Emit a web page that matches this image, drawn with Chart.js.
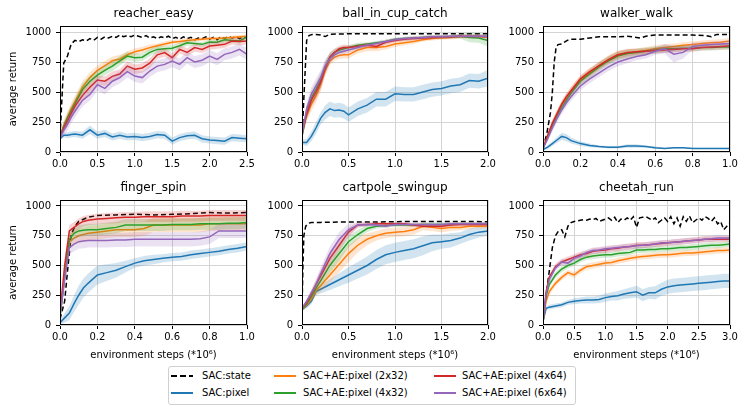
<!DOCTYPE html>
<html lang="en">
<head>
<meta charset="UTF-8">
<title>SAC+AE learning curves</title>
<script src="https://cdn.jsdelivr.net/npm/chart.js"></script>
<style>
  body { margin: 0; background: #fff; }
  #fig { position: relative; width: 748px; height: 410px; overflow: hidden; font-family: 'DejaVu Sans', sans-serif; }
  #fig canvas { position: absolute; }
  #legend { position: absolute; left: 168px; top: 366px; width: 406px; height: 37px; border: 1px solid #d0d0d0; border-radius: 3px; }
  .lg-text { position: absolute; font-size: 10px; line-height: 12px; color: #000; white-space: nowrap; }
  .lg-mark { position: absolute; width: 22px; height: 2px; }
</style>
</head>
<body>
<div id="fig">
  <div id="legend"></div>
</div>
<script>
// ---- data ----
const seriesLabels = ['SAC:state', 'SAC:pixel', 'SAC+AE:pixel (2x32)', 'SAC+AE:pixel (4x32)', 'SAC+AE:pixel (4x64)', 'SAC+AE:pixel (6x64)'];
const yTicks = [0, 250, 500, 750, 1000];

// reacher_easy
const reacherTicks = [0, 0.5, 1.0, 1.5, 2.0, 2.5];
const reacherX = [0,0.05,0.1,0.15,0.2,0.3,0.4,0.5,0.6,0.7,0.8,0.9,1.0,1.1,1.2,1.3,1.4,1.5,1.6,1.7,1.8,1.9,2.0,2.1,2.2,2.3,2.4,2.5];
const reacherStateX = [0,0.05,0.1,0.15,0.2,0.25,0.3,0.35,0.4,0.45,0.5,0.55,0.6,0.65,0.7,0.75,0.8,0.85,0.9,0.95,1.0,1.05,1.1,1.15,1.2,1.25,1.3,1.35,1.4,1.45,1.5,1.55,1.6,1.65,1.7,1.75,1.8,1.85,1.9,1.95,2.0,2.05,2.1,2.15,2.2,2.25,2.3,2.35,2.4,2.45,2.5];
const reacherState = [130,740,800,900,930,920,935,925,945,930,955,940,960,950,965,955,975,960,970,960,975,965,955,970,950,960,945,960,950,965,945,955,940,960,945,955,935,950,945,960,940,955,935,960,945,965,950,960,945,960,955];
const reacherPixel = [110,140,140,145,150,140,185,140,155,125,140,125,130,120,130,145,140,90,120,135,140,110,100,95,90,120,115,110];
const reacher2x32 = [130,220,290,360,420,540,620,680,720,760,775,810,835,850,870,885,900,915,920,930,935,940,945,945,950,955,960,965];
const reacher4x32 = [130,210,280,340,400,520,590,640,680,715,760,800,786,790,830,855,860,865,885,910,905,897,916,915,935,930,925,960];
const reacher4x64 = [120,200,260,320,380,470,540,600,590,630,650,716,690,700,740,810,828,786,855,830,870,855,883,890,897,925,920,925];
const reacher6x64 = [120,180,230,290,340,430,480,560,530,590,620,670,633,620,675,716,730,758,730,786,750,765,800,772,814,830,855,814];
const reacherPixelBand = [15,20,25,25,25,30,35,30,30,30,30,30,30,30,30,30,30,30,30,30,30,30,30,30,30,30,30,30];
const reacher2x32Band = [20,40,50,50,50,50,45,40,40,35,35,30,30,25,25,20,20,20,20,20,15,15,15,15,15,15,15,15];
const reacher4x32Band = [20,40,50,50,50,50,45,40,40,40,40,35,35,30,30,30,25,25,25,25,20,20,20,20,20,20,20,20];
const reacher4x64Band = [20,40,50,50,50,50,45,40,40,40,40,40,40,40,40,35,35,35,35,35,35,30,30,30,30,30,30,30];
const reacher6x64Band = [20,40,50,50,50,50,50,50,50,50,50,50,50,50,50,50,50,50,50,50,50,50,50,50,50,50,50,50];

// ball_in_cup_catch
const ballTicks = [0, 0.5, 1.0, 1.5, 2.0];
const ballX = [0,0.05,0.1,0.15,0.2,0.25,0.3,0.35,0.4,0.45,0.5,0.6,0.7,0.8,0.9,1.0,1.1,1.2,1.3,1.4,1.5,1.6,1.7,1.8,1.9,2.0];
const ballStateX = [0,0.02,0.05,0.075,0.1,0.15,0.2,0.25,0.3,0.4,0.6,0.8,1.0,1.2,1.4,1.6,1.8,2.0];
const ballState = [100,450,930,970,978,980,975,962,982,984,985,985,985,985,985,985,985,985];
const ballPixel = [80,80,130,200,280,330,360,345,350,340,310,360,390,440,440,485,480,480,500,520,530,550,560,595,590,615];
const ball2x32 = [170,300,400,470,560,680,760,790,805,810,810,850,870,870,880,900,910,920,935,945,950,955,960,960,960,960];
const ball4x32 = [130,330,450,520,600,710,790,830,850,860,870,890,900,910,920,940,945,950,955,960,960,960,965,955,950,930];
const ball4x64 = [150,320,430,500,580,700,790,830,860,870,870,880,890,880,915,930,940,945,950,955,960,960,965,965,965,960];
const ball6x64 = [140,360,480,550,620,720,780,810,830,840,850,870,890,905,920,935,945,950,955,960,960,965,965,965,965,965];
const ballPixelBand = [20,30,40,50,50,60,60,60,60,60,60,60,60,60,60,60,60,60,60,60,60,60,60,60,60,70];
const ball2x32Band = [40,50,60,60,60,50,40,30,30,30,30,30,30,30,25,25,20,20,15,15,15,15,15,15,15,15];
const ball4x32Band = [40,50,60,60,60,50,40,30,25,25,20,20,15,15,15,15,15,15,15,15,15,15,20,40,40,50];
const ball4x64Band = [40,50,60,60,60,50,40,30,25,25,20,20,20,20,20,15,15,15,15,15,15,15,15,15,15,15];
const ball6x64Band = [40,50,60,60,60,50,40,30,25,25,20,20,15,15,15,15,15,15,15,15,15,15,15,15,15,15];

// walker_walk
const walkerTicks = [0, 0.2, 0.4, 0.6, 0.8, 1.0];
const walkerX = [0,0.025,0.05,0.075,0.1,0.125,0.15,0.2,0.25,0.3,0.35,0.4,0.45,0.5,0.55,0.6,0.65,0.7,0.75,0.8,0.85,0.9,0.95,1.0];
const walkerStateX = [0,0.02,0.04,0.05,0.06,0.07,0.08,0.1,0.13,0.15,0.2,0.25,0.3,0.4,0.45,0.5,0.52,0.55,0.6,0.7,0.8,0.87,0.9,0.93,1.0];
const walkerState = [30,150,330,500,750,870,895,900,930,940,940,950,960,960,965,955,950,965,975,975,975,970,960,980,980];
const walkerPixel = [20,40,70,100,130,120,95,70,55,45,40,40,50,50,45,35,30,35,35,30,30,30,30,30];
const walker2x32 = [30,130,230,310,390,450,510,600,660,720,770,810,820,835,845,860,870,880,890,895,905,910,915,925];
const walker4x32 = [30,120,220,300,370,430,490,590,650,710,760,800,820,830,840,850,860,860,865,865,870,870,875,875];
const walker4x64 = [30,140,240,320,400,460,510,610,670,720,770,810,830,835,840,845,850,855,860,860,870,875,880,885];
const walker6x64 = [30,110,200,280,350,410,460,550,610,660,710,750,775,795,810,840,860,815,830,880,890,895,900,905];
const walkerPixelBand = [10,15,20,25,30,30,25,20,15,10,10,10,15,15,10,10,5,5,5,5,5,5,5,5];
const walker2x32Band = [10,20,30,35,35,35,35,35,35,35,35,35,35,30,30,30,30,25,25,25,25,25,25,25];
const walker4x32Band = [10,20,30,35,35,35,35,35,35,35,35,35,35,30,30,30,30,25,25,25,25,25,25,25];
const walker4x64Band = [10,20,30,30,30,30,30,30,30,30,30,30,30,25,25,25,25,25,25,25,25,25,25,25];
const walker6x64Band = [10,20,30,35,35,35,35,35,35,35,35,35,35,30,30,30,40,70,50,30,25,25,25,25];

// finger_spin
const fingerTicks = [0, 0.2, 0.4, 0.6, 0.8, 1.0];
const fingerX = [0,0.025,0.05,0.075,0.1,0.125,0.15,0.2,0.25,0.3,0.35,0.4,0.45,0.5,0.55,0.6,0.65,0.7,0.75,0.8,0.85,0.9,0.95,1.0];
const fingerStateX = [0,0.025,0.04,0.06,0.08,0.1,0.15,0.2,0.3,0.4,0.5,0.6,0.7,0.8,0.9,1.0];
const fingerState = [50,200,450,760,830,870,905,920,925,930,925,930,935,945,940,945];
const fingerPixel = [20,60,100,180,250,310,350,420,440,460,490,520,540,550,560,570,575,590,600,610,620,635,645,660];
const finger2x32 = [80,400,700,730,750,760,770,780,790,800,800,800,810,840,840,840,840,840,840,850,850,850,850,850];
const finger4x32 = [60,420,720,770,790,795,800,800,810,820,840,840,840,840,840,845,845,845,850,850,850,855,855,860];
const finger4x64 = [100,500,790,820,850,870,880,890,895,900,905,905,910,910,910,910,915,915,915,920,920,920,920,920];
const finger6x64 = [80,380,650,680,700,705,710,710,710,715,715,720,720,720,720,720,720,720,725,740,790,790,790,790];
const fingerPixelBand = [20,40,60,70,80,80,80,80,70,60,50,40,40,40,35,35,35,35,35,35,35,35,35,35];
const finger2x32Band = [30,60,60,60,60,60,60,60,60,60,60,60,60,60,60,60,60,60,60,60,60,60,60,60];
const finger4x32Band = [30,60,50,50,50,50,50,50,50,50,50,50,50,50,50,50,50,50,50,50,50,50,50,50];
const finger4x64Band = [30,60,50,45,45,45,45,45,45,45,45,45,45,45,45,45,45,45,45,45,45,45,45,45];
const finger6x64Band = [30,60,60,60,60,60,60,60,60,60,60,60,60,60,60,60,60,60,60,60,60,60,60,60];

// cartpole_swingup
const cartTicks = [0, 0.5, 1.0, 1.5, 2.0];
const cartX = [0,0.05,0.1,0.15,0.2,0.3,0.4,0.5,0.6,0.7,0.8,0.9,1.0,1.1,1.2,1.3,1.4,1.5,1.6,1.7,1.8,1.9,2.0];
const cartStateX = [0,0.01,0.02,0.04,0.07,0.1,0.2,0.4,0.6,0.8,1.0,1.2,1.5,2.0];
const cartState = [130,500,750,830,855,860,862,865,865,865,868,870,870,868];
const cartPixel = [130,160,200,280,300,340,380,420,460,500,550,590,610,625,640,665,690,700,710,730,760,780,790];
const cart2x32 = [130,170,220,290,330,420,510,600,670,720,750,770,780,785,800,830,820,810,820,820,830,830,830];
const cart4x32 = [130,180,240,310,370,500,600,700,760,810,830,835,840,840,840,845,845,845,845,850,850,850,850];
const cart4x64 = [140,190,260,340,410,560,670,780,840,845,850,850,850,850,840,830,830,830,840,845,845,845,845];
const cart6x64 = [140,200,270,340,430,600,720,800,840,845,840,830,845,845,845,845,845,845,850,850,850,850,850];
const cartPixelBand = [15,20,25,30,35,45,55,65,70,75,80,80,80,80,80,80,70,60,60,50,50,45,40];
const cart2x32Band = [15,20,30,40,50,60,70,70,60,50,40,40,40,40,40,35,30,30,30,25,25,20,20];
const cart4x32Band = [15,20,30,40,50,60,60,50,40,30,20,15,15,15,15,15,15,15,15,15,15,15,15];
const cart4x64Band = [15,20,30,40,50,60,50,40,20,15,15,15,15,15,15,15,15,15,15,15,15,15,15];
const cart6x64Band = [15,20,30,40,50,60,60,50,20,15,15,15,15,15,15,15,15,15,15,15,15,15,15];

// cheetah_run
const cheetahTicks = [0, 0.5, 1.0, 1.5, 2.0, 2.5, 3.0];
const cheetahX = [0,0.05,0.1,0.2,0.3,0.4,0.5,0.6,0.7,0.8,0.9,1.0,1.1,1.2,1.3,1.4,1.5,1.6,1.7,1.8,1.9,2.0,2.1,2.2,2.3,2.4,2.5,2.6,2.7,2.8,2.9,3.0];
const cheetahStateX = [0,0.05,0.1,0.15,0.2,0.25,0.3,0.35,0.4,0.45,0.5,0.55,0.6,0.65,0.7,0.75,0.8,0.85,0.9,0.95,1.0,1.05,1.1,1.15,1.2,1.25,1.3,1.35,1.4,1.45,1.5,1.55,1.6,1.65,1.7,1.75,1.8,1.85,1.9,1.95,2.0,2.05,2.1,2.15,2.2,2.25,2.3,2.35,2.4,2.45,2.5,2.55,2.6,2.65,2.7,2.75,2.8,2.85,2.9,2.95,3.0];
const cheetahState = [20,250,450,650,750,790,800,740,830,860,870,875,880,885,880,890,885,895,870,880,890,900,880,905,860,890,880,900,880,910,820,900,905,910,895,880,900,860,880,900,870,910,850,900,830,910,870,915,860,880,900,880,910,895,870,900,850,870,800,830,860];
const cheetahPixel = [30,140,150,160,170,190,200,205,210,210,215,230,240,245,260,270,280,250,270,270,300,320,330,335,340,345,350,355,360,365,370,370];
const cheetah2x32 = [30,200,280,350,400,440,420,460,490,500,510,520,525,540,550,560,570,575,580,585,590,590,595,600,605,605,610,615,620,625,625,630];
const cheetah4x32 = [30,240,340,420,470,500,520,550,570,580,585,590,590,600,605,610,630,630,635,635,640,640,645,650,650,655,660,665,670,670,675,680];
const cheetah4x64 = [30,280,400,490,530,550,570,590,600,620,625,630,640,645,655,660,670,670,675,680,685,690,695,700,705,710,715,720,720,720,720,720];
const cheetah6x64 = [30,260,380,480,530,520,560,580,610,625,630,640,645,650,655,660,665,670,675,680,690,690,695,700,705,710,715,720,725,730,730,730];
const cheetahPixelBand = [10,15,20,20,20,20,25,25,30,30,30,35,35,40,40,45,50,50,50,55,55,60,60,60,60,60,60,60,60,60,60,60];
const cheetah2x32Band = [10,20,25,25,25,25,25,25,25,25,25,25,25,25,25,25,25,25,25,25,25,25,25,25,25,25,25,25,25,25,25,25];
const cheetah4x32Band = [10,20,25,25,25,25,25,25,25,25,25,25,25,25,25,25,25,25,25,25,25,25,25,25,25,25,25,25,25,25,25,25];
const cheetah4x64Band = [10,20,25,25,25,25,25,25,25,25,25,25,25,25,25,25,25,25,25,25,25,25,25,25,25,25,25,25,25,25,25,25];
const cheetah6x64Band = [10,20,25,25,25,25,25,25,25,25,25,25,25,25,25,25,25,25,25,25,25,25,25,25,25,25,25,25,25,25,25,25];

// ---- styling / layout ----
const seriesColors = ['#1f77b4', '#ff7f0e', '#2ca02c', '#d62728', '#9467bd'];
const xLabel = 'environment steps (*10\u2076)';

const panels = [
  { title: 'reacher_easy', left: 60, top: 26, w: 187, h: 126, xMax: 2.5, ticks: reacherTicks, x: reacherX, stateX: reacherStateX, state: reacherState,
    means: [reacherPixel, reacher2x32, reacher4x32, reacher4x64, reacher6x64], bands: [reacherPixelBand, reacher2x32Band, reacher4x32Band, reacher4x64Band, reacher6x64Band], yTitle: true, xTitle: false },
  { title: 'ball_in_cup_catch', left: 302, top: 26, w: 186, h: 126, xMax: 2.0, ticks: ballTicks, x: ballX, stateX: ballStateX, state: ballState,
    means: [ballPixel, ball2x32, ball4x32, ball4x64, ball6x64], bands: [ballPixelBand, ball2x32Band, ball4x32Band, ball4x64Band, ball6x64Band], yTitle: false, xTitle: false },
  { title: 'walker_walk', left: 543, top: 26, w: 187, h: 126, xMax: 1.0, ticks: walkerTicks, x: walkerX, stateX: walkerStateX, state: walkerState,
    means: [walkerPixel, walker2x32, walker4x32, walker4x64, walker6x64], bands: [walkerPixelBand, walker2x32Band, walker4x32Band, walker4x64Band, walker6x64Band], yTitle: false, xTitle: false },
  { title: 'finger_spin', left: 60, top: 200, w: 187, h: 125, xMax: 1.0, ticks: fingerTicks, x: fingerX, stateX: fingerStateX, state: fingerState,
    means: [fingerPixel, finger2x32, finger4x32, finger4x64, finger6x64], bands: [fingerPixelBand, finger2x32Band, finger4x32Band, finger4x64Band, finger6x64Band], yTitle: true, xTitle: true },
  { title: 'cartpole_swingup', left: 302, top: 200, w: 186, h: 125, xMax: 2.0, ticks: cartTicks, x: cartX, stateX: cartStateX, state: cartState,
    means: [cartPixel, cart2x32, cart4x32, cart4x64, cart6x64], bands: [cartPixelBand, cart2x32Band, cart4x32Band, cart4x64Band, cart6x64Band], yTitle: false, xTitle: true },
  { title: 'cheetah_run', left: 543, top: 200, w: 187, h: 125, xMax: 3.0, ticks: cheetahTicks, x: cheetahX, stateX: cheetahStateX, state: cheetahState,
    means: [cheetahPixel, cheetah2x32, cheetah4x32, cheetah4x64, cheetah6x64], bands: [cheetahPixelBand, cheetah2x32Band, cheetah4x32Band, cheetah4x64Band, cheetah6x64Band], yTitle: false, xTitle: true }
];

Chart.defaults.font.family = "'DejaVu Sans', sans-serif";
Chart.defaults.font.size = 10;
Chart.defaults.color = '#000';

function hexA(hex, a) {
  const n = parseInt(hex.slice(1), 16);
  return 'rgba(' + (n >> 16) + ',' + ((n >> 8) & 255) + ',' + (n & 255) + ',' + a + ')';
}
function xy(xs, ys) { return xs.map((x, i) => ({ x: x, y: ys[i] })); }
function edge(xs, ys, sp, sign) { return xs.map((x, i) => ({ x: x, y: ys[i] + sign * sp[i] })); }

// axes frame drawn on top, like matplotlib spines
const framePlugin = {
  id: 'frame',
  afterDatasetsDraw(chart) {
    const { ctx, chartArea: a } = chart;
    ctx.save();
    ctx.strokeStyle = '#000';
    ctx.lineWidth = 1;
    ctx.strokeRect(a.left + 0.5, a.top + 0.5, a.right - a.left - 1, a.bottom - a.top - 1);
    ctx.restore();
  }
};

// title centred over the plot area
const titlePlugin = {
  id: 'panelTitle',
  afterDraw(chart, args, opts) {
    const { ctx, chartArea: a } = chart;
    ctx.save();
    ctx.font = "12px 'DejaVu Sans', sans-serif";
    ctx.fillStyle = '#000';
    ctx.textAlign = 'center';
    ctx.textBaseline = 'middle';
    ctx.fillText(opts.text, (a.left + a.right) / 2, a.top - 12);
    ctx.restore();
  }
};

function buildDatasets(p) {
  const sets = [{
    label: seriesLabels[0], data: xy(p.stateX, p.state), borderColor: '#000',
    borderDash: [5, 3], borderWidth: 1.5, fill: false, order: 300
  }];
  p.means.forEach((m, k) => {
    const c = seriesColors[k];
    sets.push({ data: edge(p.x, m, p.bands[k], 1), borderColor: 'rgba(0,0,0,0)', borderWidth: 0,
      backgroundColor: hexA(c, 0.2), fill: '+1', order: 200 - 2 * k });
    sets.push({ data: edge(p.x, m, p.bands[k], -1), borderColor: 'rgba(0,0,0,0)', borderWidth: 0,
      fill: false, order: 200 - 2 * k });
    sets.push({ label: seriesLabels[k + 1], data: xy(p.x, m), borderColor: c, borderWidth: 1.5,
      fill: false, order: 199 - 2 * k });
  });
  return sets;
}

const fig = document.getElementById('fig');
panels.forEach(p => {
  const cv = document.createElement('canvas');
  const xh = p.xTitle ? 40 : 20;
  cv.width = 60 + p.w + 14;
  cv.height = 26 + p.h + xh;
  cv.style.left = (p.left - 60) + 'px';
  cv.style.top = (p.top - 26) + 'px';
  fig.appendChild(cv);

  new Chart(cv, {
    type: 'line',
    data: { datasets: buildDatasets(p) },
    options: {
      responsive: false,
      animation: false,
      events: [],
      layout: { padding: { top: 26, right: 14, left: 0, bottom: 0 } },
      elements: { point: { radius: 0 }, line: { tension: 0 } },
      plugins: {
        legend: { display: false },
        tooltip: { enabled: false },
        panelTitle: { text: p.title }
      },
      scales: {
        x: {
          type: 'linear', min: 0, max: p.xMax,
          afterBuildTicks: s => { s.ticks = p.ticks.map(v => ({ value: v })); },
          afterFit: s => { s.height = xh; },
          ticks: { padding: 2, maxRotation: 0, autoSkip: false, callback: v => v.toFixed(1) },
          grid: { color: '#d4d4d4', tickColor: '#000', tickLength: 4 },
          border: { display: false },
          title: { display: p.xTitle, text: xLabel, padding: { top: 0, bottom: 4 } }
        },
        y: {
          min: 0, max: 1050,
          afterBuildTicks: s => { s.ticks = yTicks.map(v => ({ value: v })); },
          afterFit: s => { s.width = 60; },
          ticks: { padding: 5, callback: v => String(v) },
          grid: { color: '#d4d4d4', tickColor: '#000', tickLength: 4 },
          border: { display: false },
          title: { display: p.yTitle, text: 'average return', padding: { top: 7, bottom: 0 } }
        }
      }
    },
    plugins: [framePlugin, titlePlugin]
  });
});

// legend below the grid, three columns of two
const legend = document.getElementById('legend');
const legendMarkX = [2, 105, 265];
const legendTextX = [33, 134, 293];
const legendRowY = [3, 20];
seriesLabels.forEach((lab, i) => {
  const col = Math.floor(i / 2), row = i % 2;
  const mark = document.createElement('div');
  mark.className = 'lg-mark';
  mark.style.left = legendMarkX[col] + 'px';
  mark.style.top = (legendRowY[row] + 5) + 'px';
  mark.style.background = i === 0
    ? 'repeating-linear-gradient(to right, #000 0 6px, transparent 6px 9px)'
    : seriesColors[i - 1];
  legend.appendChild(mark);
  const t = document.createElement('div');
  t.className = 'lg-text';
  t.style.left = legendTextX[col] + 'px';
  t.style.top = legendRowY[row] + 'px';
  t.textContent = lab;
  legend.appendChild(t);
});
</script>
</body>
</html>
